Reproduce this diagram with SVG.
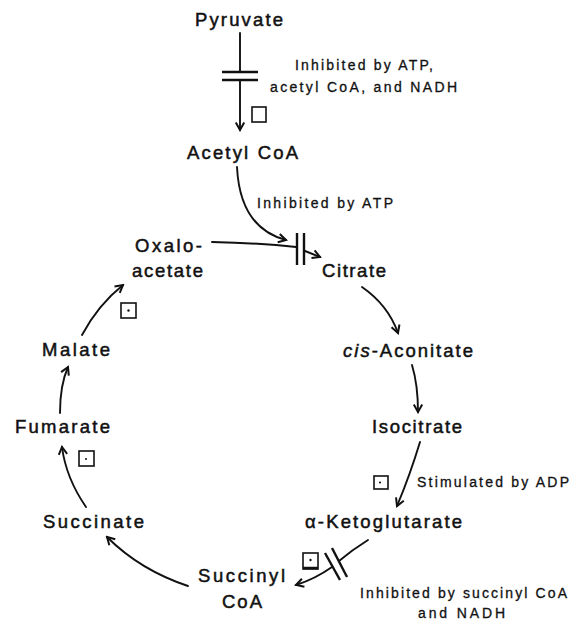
<svg xmlns="http://www.w3.org/2000/svg" width="572" height="623" viewBox="0 0 572 623">
<style>
.n{font-family:"Liberation Sans",Arial,sans-serif;font-size:18.5px;fill:#111;stroke:#111;stroke-width:0.5}
.s{font-family:"Liberation Sans",Arial,sans-serif;font-size:14px;fill:#111;stroke:#111;stroke-width:0.3}
.c{fill:none;stroke:#111;stroke-width:1.9;stroke-linecap:round}
.a{marker-end:url(#ah)}
.bar{stroke:#111;stroke-width:2.4;stroke-linecap:butt}
.sq{fill:none;stroke:#111;stroke-width:1.6}
.dot{fill:#111}
</style>
<defs>
<marker id="ah" markerUnits="userSpaceOnUse" viewBox="-10 -6 12 12" refX="0" refY="0" markerWidth="12" markerHeight="12" orient="auto">
<path d="M-7.5,-4.2 L0,0 L-7.5,4.2" fill="none" stroke="#111" stroke-width="2" stroke-linejoin="miter"/>
</marker>
</defs>
<rect width="572" height="623" fill="#fff"/>

<g id="connectors">
<path class="c" d="M240,33 L240,72"/>
<path class="c a" d="M240,80 L240,130"/>
<line class="bar" x1="222" y1="72" x2="258" y2="72"/>
<line class="bar" x1="222" y1="80" x2="258" y2="80"/>

<path class="c a" d="M237,167 Q240,228 286,240"/>
<path class="c" d="M212,242 Q260,243 296,247"/>
<path class="c a" d="M305,251 L320,257"/>
<line class="bar" x1="297" y1="233" x2="297" y2="265"/>
<line class="bar" x1="304" y1="233" x2="304" y2="265"/>

<path class="c a" d="M362,287 Q388,305 398,333"/>
<path class="c a" d="M412,365 Q418,385 418,412"/>
<path class="c a" d="M420,442 Q410,475 397,506"/>

<path class="c" d="M368,540 Q352,550 339,561"/>
<path class="c a" d="M332,567 Q315,579 296,585"/>
<line class="bar" x1="332" y1="548" x2="347" y2="577"/>
<line class="bar" x1="325" y1="553" x2="340" y2="580"/>

<path class="c a" d="M188,586 Q140,570 107,537"/>
<path class="c a" d="M86,507 Q66,478 62,447"/>
<path class="c a" d="M60,413 Q60,385 68,367"/>
<path class="c a" d="M82,335 Q98,305 123,285"/>
</g>

<g id="enzymes">
<rect class="sq" x="252" y="107" width="14" height="15"/>
<rect class="sq" x="121" y="303" width="15" height="15"/>
<circle class="dot" cx="128.5" cy="310.5" r="1.2"/>
<rect class="sq" x="79" y="451" width="15" height="15"/>
<circle class="dot" cx="86" cy="459" r="1"/>
<rect class="sq" x="374" y="476" width="14" height="13"/>
<circle class="dot" cx="380" cy="482.5" r="1.1"/>
<rect class="sq" x="303" y="553" width="15" height="16"/>
<circle class="dot" cx="310.5" cy="560" r="1.2"/>
<line x1="303" y1="568" x2="318" y2="568" stroke="#111" stroke-width="2.5"/>
</g>

<g id="pyruvate"><text class="n" x="195" y="26" textLength="88" lengthAdjust="spacing">Pyruvate</text></g>
<g id="acetyl-coa"><text class="n" x="187" y="159" textLength="111" lengthAdjust="spacing">Acetyl CoA</text></g>
<g id="oxaloacetate">
<text class="n" x="135" y="252" textLength="67" lengthAdjust="spacing">Oxalo-</text>
<text class="n" x="132" y="277" textLength="71" lengthAdjust="spacing">acetate</text>
</g>
<g id="citrate"><text class="n" x="322" y="277" textLength="64" lengthAdjust="spacing">Citrate</text></g>
<g id="cis-aconitate"><text class="n" x="343" y="357" textLength="130" lengthAdjust="spacing"><tspan font-style="italic">cis</tspan>-Aconitate</text></g>
<g id="isocitrate"><text class="n" x="372" y="433" textLength="90" lengthAdjust="spacing">Isocitrate</text></g>
<g id="alpha-ketoglutarate"><text class="n" x="305" y="528" textLength="157" lengthAdjust="spacing">α-Ketoglutarate</text></g>
<g id="succinyl-coa">
<text class="n" x="198" y="582" textLength="87" lengthAdjust="spacing">Succinyl</text>
<text class="n" x="222" y="608" textLength="40" lengthAdjust="spacing">CoA</text>
</g>
<g id="succinate"><text class="n" x="43" y="528" textLength="101" lengthAdjust="spacing">Succinate</text></g>
<g id="fumarate"><text class="n" x="15" y="433" textLength="95" lengthAdjust="spacing">Fumarate</text></g>
<g id="malate"><text class="n" x="42" y="356" textLength="68" lengthAdjust="spacing">Malate</text></g>

<g id="regulation">
<text class="s" x="295" y="70" textLength="138" lengthAdjust="spacing">Inhibited by ATP,</text>
<text class="s" x="270" y="92" textLength="187" lengthAdjust="spacing">acetyl CoA, and NADH</text>
<text class="s" x="257" y="208" textLength="136" lengthAdjust="spacing">Inhibited by ATP</text>
<text class="s" x="417" y="487" textLength="152" lengthAdjust="spacing">Stimulated by ADP</text>
<text class="s" x="360" y="598" textLength="207" lengthAdjust="spacing">Inhibited by succinyl CoA</text>
<text class="s" x="418" y="618" textLength="87" lengthAdjust="spacing">and NADH</text>
</g>
</svg>
